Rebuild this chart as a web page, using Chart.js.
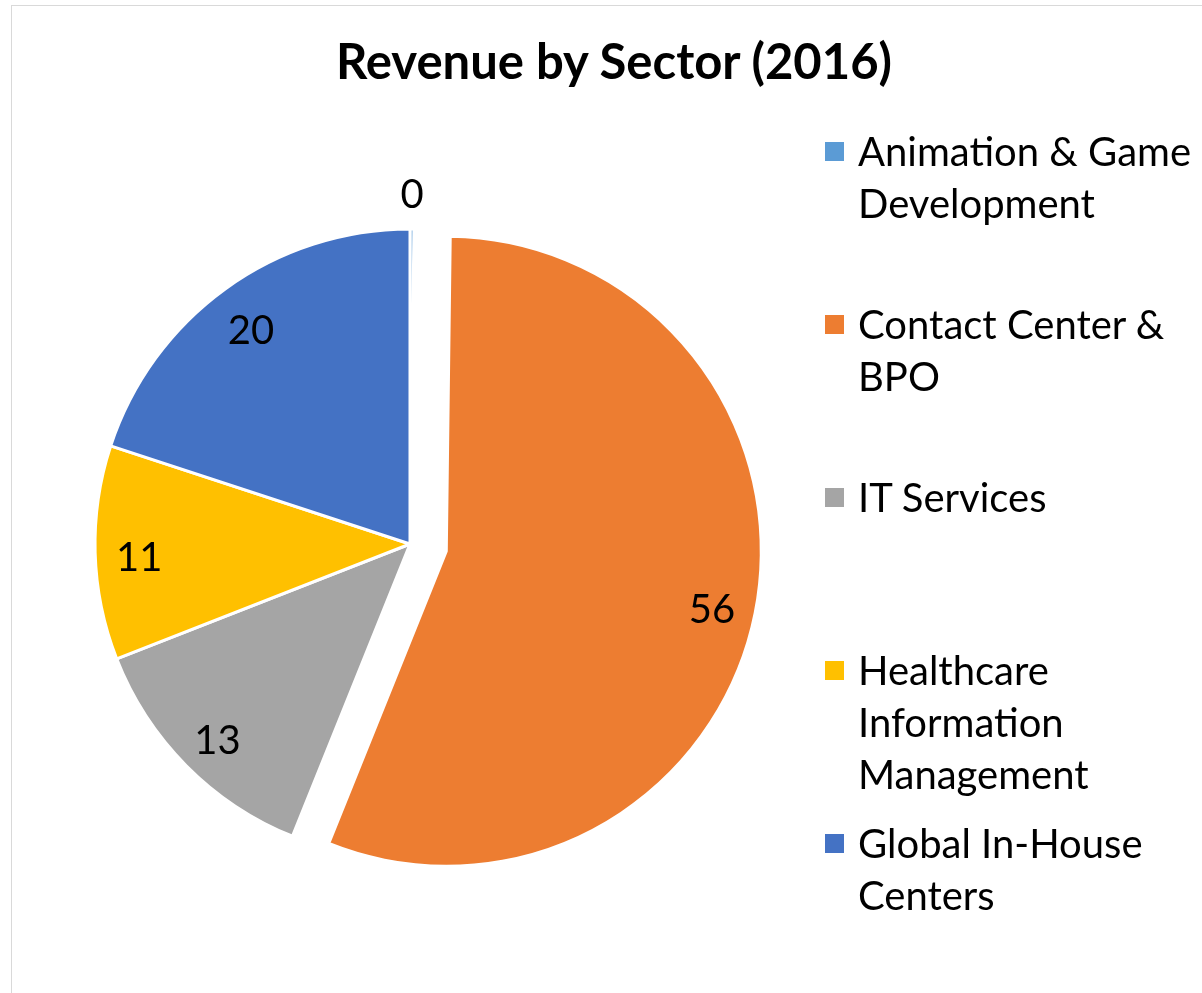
<!DOCTYPE html>
<html>
<head>
<meta charset="utf-8">
<script src="https://cdn.jsdelivr.net/npm/chart.js@4/dist/chart.umd.min.js"></script>
<style>
  body { margin: 0; background: #fff; font-family: Lato, sans-serif; }
  #wrap { position: relative; width: 1202px; height: 993px; overflow: hidden; }
  #frame { position: absolute; left: 11px; top: 5px; width: 1300px; height: 1100px; border: 1px solid #d9d9d9; }
  #title { position: absolute; left: 0; top: 30px; width: 1228px; text-align: center; font-weight: bold; font-size: 49px; line-height: 60px; color: #000; }
  #legend { position: absolute; left: 825px; top: 125px; }
  .item { position: absolute; left: 0; width: 370px; }
  .box { position: absolute; left: 0; top: 17px; width: 19px; height: 19px; }
  .txt { position: absolute; left: 33px; width: 345px; font-size: 40px; line-height: 52px; color: #000; }
  #c { position: absolute; left: 0; top: 0; }
</style>
</head>
<body>
<div id="wrap">
  <div id="frame"></div>
  <div style="position:absolute;left:0;top:0;width:1202px;height:993px"><canvas id="c"></canvas></div>
  <div id="title">Revenue by Sector (2016)</div>
  <div id="legend"></div>
</div>
<script>
const categories = ['Animation & Game Development', 'Contact Center & BPO', 'IT Services', 'Healthcare Information Management', 'Global In-House Centers'];
const revenue = [0.2, 56, 13, 11, 20];
const colors = ['#5B9BD5', '#ED7D31', '#A5A5A5', '#FFC000', '#4472C4'];

// legend (html so the labels can wrap like the original)
const legend = document.getElementById('legend');
categories.forEach((name, i) => {
  const item = document.createElement('div');
  item.className = 'item';
  item.style.top = (i * 173) + 'px';
  item.innerHTML = '<div class="box" style="background:' + colors[i] + '"></div><div class="txt"></div>';
  item.querySelector('.txt').textContent = name;
  legend.appendChild(item);
});

// pulls one slice out from the centre
const explodePlugin = {
  id: 'explode',
  afterDatasetUpdate(chart, args, opts) {
    const arc = args.meta.data[opts.index];
    if (!arc) return;
    const mid = (arc.startAngle + arc.endAngle) / 2;
    arc.x += Math.cos(mid) * opts.distance;
    arc.y += Math.sin(mid) * opts.distance;
  }
};

// value labels inside the slices (outside for tiny ones)
const labelPlugin = {
  id: 'sliceLabels',
  afterDatasetsDraw(chart) {
    const ctx = chart.ctx;
    const meta = chart.getDatasetMeta(0);
    ctx.save();
    ctx.font = '40px Lato';
    ctx.fillStyle = '#000';
    ctx.textAlign = 'center';
    ctx.textBaseline = 'middle';
    meta.data.forEach((arc, i) => {
      const v = revenue[i];
      const mid = (arc.startAngle + arc.endAngle) / 2;
      const r = v < 1 ? arc.outerRadius + 34 : arc.outerRadius * 0.86;
      const dy = v < 1 ? 0 : 6;
      ctx.fillText(Math.round(v), arc.x + Math.cos(mid) * r, arc.y + Math.sin(mid) * r + dy);
    });
    ctx.restore();
  }
};

new Chart(document.getElementById('c'), {
  type: 'pie',
  data: {
    labels: categories,
    datasets: [{
      data: revenue,
      backgroundColor: colors,
      borderColor: '#fff',
      borderWidth: 3
    }]
  },
  options: {
    responsive: true,
    maintainAspectRatio: false,
    animation: false,
    events: [],
    radius: 315,
    layout: { padding: { left: 20, right: 402, top: 95, bottom: 0 } },
    plugins: {
      legend: { display: false },
      tooltip: { enabled: false },
      explode: { index: 1, distance: 37 }
    }
  },
  plugins: [explodePlugin, labelPlugin]
});
</script>
</body>
</html>
